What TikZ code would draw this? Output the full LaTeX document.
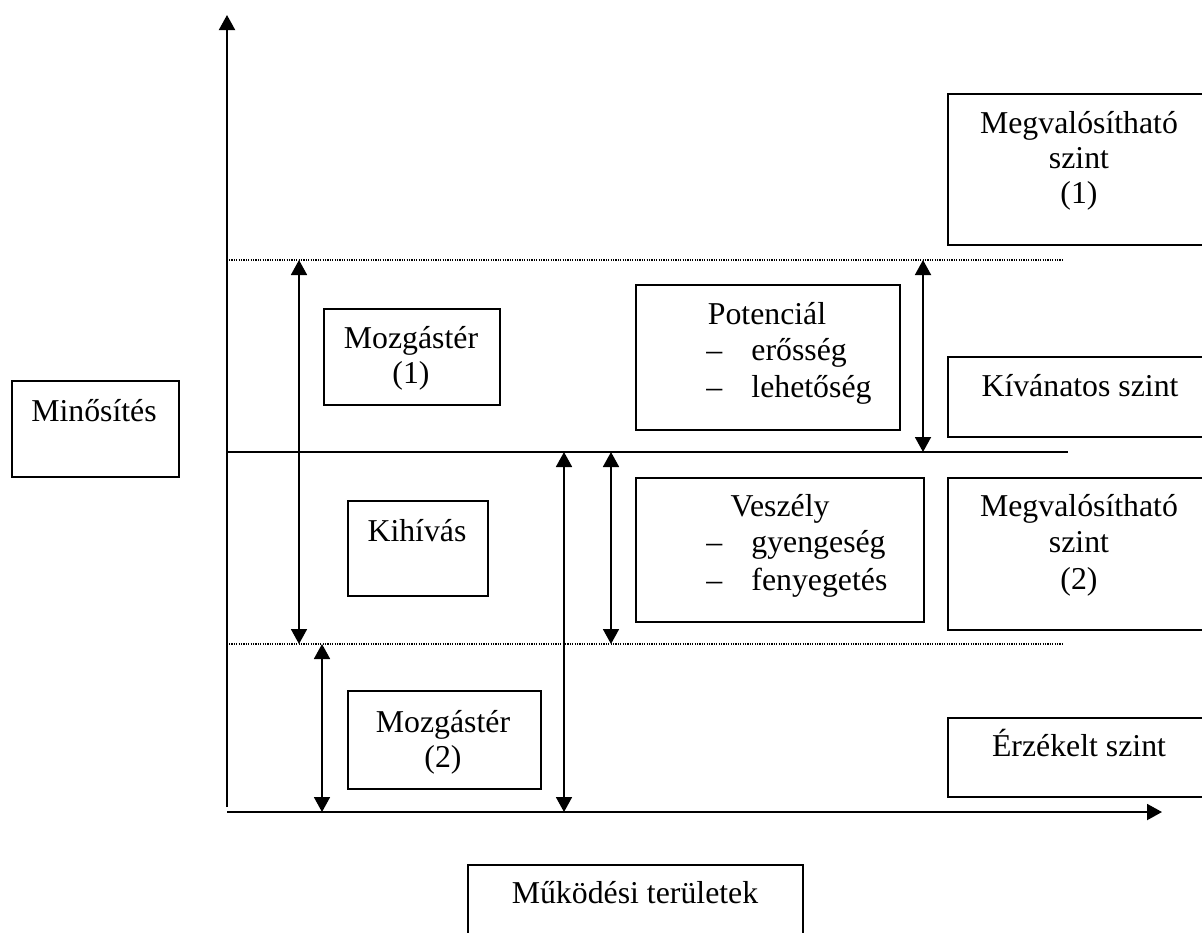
\documentclass[tikz,border=0pt]{standalone}
\usepackage{fontspec}
\setmainfont{Liberation Serif}
\usetikzlibrary{arrows.meta}
\begin{document}
\begin{tikzpicture}[x=0.5pt,y=-0.5pt,
  box/.style={draw, line width=0.9pt, inner sep=0pt, anchor=north west},
  txt/.style={inner sep=0pt, anchor=base, font=\fontsize{15.9}{18}\selectfont},
  txtw/.style={txt, anchor=base west},
  axisarrow/.style={line width=1pt, -{Triangle[length=7.5pt,width=8pt]}},
  twoway/.style={line width=0.9pt, {Triangle[length=7.5pt,width=8pt]}-{Triangle[length=7.5pt,width=8pt]}},
  dotline/.style={line width=0.6pt, dash pattern=on 0.6pt off 0.6pt},
  midline/.style={line width=1pt},
]
\useasboundingbox (0,0) rectangle (1202,932);
\clip (0,0) rectangle (1202,932);

% axes
\coordinate (yb) at (227,807);
\coordinate (yt) at (227,15);
\coordinate (xl) at (227,812);
\coordinate (xr) at (1162,812);
\draw[axisarrow] (yb) -- (yt);
\draw[axisarrow] (xl) -- (xr);

% level lines
\coordinate (upL) at (229,260);  \coordinate (upR) at (1064,260);
\coordinate (miL) at (227,452);  \coordinate (miR) at (1068,452);
\coordinate (loL) at (229,644);  \coordinate (loR) at (1064,644);
\draw[dotline] (upL) -- (upR);
\draw[midline] (miL) -- (miR);
\draw[dotline] (loL) -- (loR);

% range arrows
\coordinate (r1t) at (299,260); \coordinate (r1b) at (299,644);
\coordinate (r2t) at (322,644); \coordinate (r2b) at (322,812);
\coordinate (r3t) at (564,452); \coordinate (r3b) at (564,812);
\coordinate (r4t) at (611,452); \coordinate (r4b) at (611,644);
\coordinate (r5t) at (923,260); \coordinate (r5b) at (923,452);
\draw[twoway] (r1t) -- (r1b);
\draw[twoway] (r2t) -- (r2b);
\draw[twoway] (r3t) -- (r3b);
\draw[twoway] (r4t) -- (r4b);
\draw[twoway] (r5t) -- (r5b);

% boxes
\node[box, minimum width=132pt, minimum height=75.5pt] (megvA) at (947,93) {};
\node[box, minimum width=132pt, minimum height=40pt]   (kivan) at (947,356) {};
\node[box, minimum width=132pt, minimum height=76pt]   (megvB) at (947,477) {};
\node[box, minimum width=132pt, minimum height=39.5pt] (erzek) at (947,717) {};
\node[box, minimum width=132pt, minimum height=72.5pt] (poten) at (635,284) {};
\node[box, minimum width=144pt, minimum height=72pt]   (vesz)  at (635,477) {};
\node[box, minimum width=88pt,  minimum height=48pt]   (mozgA) at (323,308) {};
\node[box, minimum width=70pt,  minimum height=47.5pt] (kihiv) at (347,500) {};
\node[box, minimum width=96.5pt,minimum height=49pt]   (mozgB) at (347,690) {};
\node[box, minimum width=83.5pt,minimum height=48pt]   (minos) at (11,380) {};
\node[box, minimum width=167.5pt,minimum height=43pt]  (mukod) at (467,864) {};

% texts
\node[txt] (megvA1) at (1079,133) {Megvalósítható};
\node[txt] (megvA2) at (1079,168) {szint};
\node[txt] (megvA3) at (1079,203) {(1)};
\node[txt] (kivan1) at (1080,396) {Kívánatos szint};
\node[txt] (megvB1) at (1079,516) {Megvalósítható};
\node[txt] (megvB2) at (1079,552) {szint};
\node[txt] (megvB3) at (1079,589) {(2)};
\node[txt] (erzek1) at (1079,756) {Érzékelt szint};

\node[txt]  (poten1) at (767,324) {Potenciál};
\node[txtw] (poten2d) at (706,360) {–};
\node[txtw] (poten2) at (751,360) {erősség};
\node[txtw] (poten3d) at (706,397) {–};
\node[txtw] (poten3) at (751,397) {lehetőség};

\node[txt]  (vesz1) at (780,516) {Veszély};
\node[txtw] (vesz2d) at (706,552) {–};
\node[txtw] (vesz2) at (751,552) {gyengeség};
\node[txtw] (vesz3d) at (706,590) {–};
\node[txtw] (vesz3) at (751,590) {fenyegetés};

\node[txt] (mozgA1) at (411,348) {Mozgástér};
\node[txt] (mozgA2) at (411,383) {(1)};
\node[txt] (kihiv1) at (417,541) {Kihívás};
\node[txt] (mozgB1) at (443,732) {Mozgástér};
\node[txt] (mozgB2) at (443,767) {(2)};
\node[txt] (minos1) at (94,421) {Minősítés};
\node[txt] (mukod1) at (635,903) {Működési területek};
\end{tikzpicture}
\end{document}
